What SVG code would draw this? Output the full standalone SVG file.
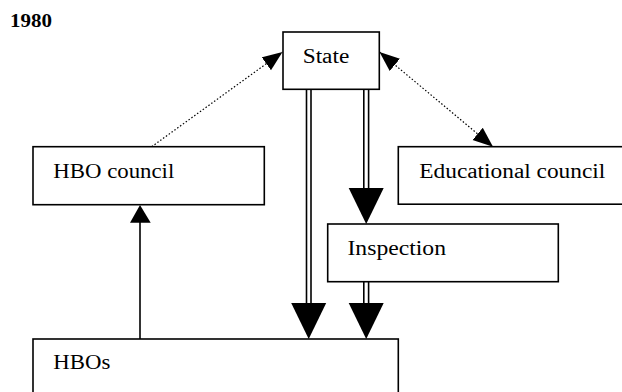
<svg xmlns="http://www.w3.org/2000/svg" width="622" height="392" viewBox="0 0 622 392">
<defs>
<style>
.box{fill:#fff;stroke:#000;stroke-width:1.6}
.lbl{font-family:"Liberation Serif","Times New Roman",serif;font-size:20px;fill:#000}
.dbl{stroke:#000;stroke-width:1.6;fill:none}
.dot{stroke:#000;stroke-width:1.2;stroke-dasharray:1.5 2;fill:none}
.sol{stroke:#000;stroke-width:1.6;fill:none}
</style>
<path id="bh" d="M-17.5,0 L17.5,0 L0,36 Z" fill="#000"/>
<marker id="dh" markerUnits="userSpaceOnUse" markerWidth="22" markerHeight="18" refX="20" refY="8" orient="auto-start-reverse" viewBox="0 0 22 18">
<path d="M0,0 L20,8 L0,16 Z" fill="#000"/>
</marker>
</defs>
<rect width="622" height="392" fill="#fff"/>
<text x="10" y="26.7" font-family="'Liberation Serif','Times New Roman',serif" font-size="18" font-weight="bold" textLength="42" lengthAdjust="spacingAndGlyphs">1980</text>

<g id="connectors">
<line class="dbl" x1="306.5" y1="89" x2="306.5" y2="304"/>
<line class="dbl" x1="311" y1="89" x2="311" y2="304"/>
<use href="#bh" x="308.7" y="303"/>
<line class="dbl" x1="363.8" y1="89" x2="363.8" y2="189"/>
<line class="dbl" x1="368.6" y1="89" x2="368.6" y2="189"/>
<use href="#bh" x="366.2" y="188"/>
<line class="dbl" x1="363.8" y1="281" x2="363.8" y2="304"/>
<line class="dbl" x1="368.6" y1="281" x2="368.6" y2="304"/>
<use href="#bh" x="366.2" y="303"/>
<line class="sol" x1="140" y1="339" x2="140" y2="222"/>
<polygon points="130,222.7 150.7,222.7 140,205" fill="#000"/>
<line class="dot" x1="151.7" y1="146.7" x2="282.5" y2="52" marker-end="url(#dh)"/>
<line class="dot" x1="379.5" y1="52" x2="493" y2="146.7" marker-start="url(#dh)" marker-end="url(#dh)"/>
</g>

<g id="state">
<rect class="box" x="283" y="32" width="96.3" height="57.3"/>
<text class="lbl" x="302.7" y="62.7" textLength="46.6" lengthAdjust="spacingAndGlyphs">State</text>
</g>
<g id="hbo-council">
<rect class="box" x="33" y="146.7" width="231.3" height="58"/>
<text class="lbl" x="53.3" y="178.3" textLength="121" lengthAdjust="spacingAndGlyphs">HBO council</text>
</g>
<g id="educational-council">
<rect class="box" x="398.3" y="146.7" width="240" height="57.5"/>
<text class="lbl" x="419.3" y="177.7" textLength="186" lengthAdjust="spacingAndGlyphs">Educational council</text>
</g>
<g id="inspection">
<rect class="box" x="327.7" y="224" width="230.6" height="57.7"/>
<text class="lbl" x="347.5" y="255" textLength="98.5" lengthAdjust="spacingAndGlyphs">Inspection</text>
</g>
<g id="hbos">
<rect class="box" x="33" y="339" width="365.3" height="70"/>
<text class="lbl" x="53.3" y="369.3" textLength="57" lengthAdjust="spacingAndGlyphs">HBOs</text>
</g>
</svg>
